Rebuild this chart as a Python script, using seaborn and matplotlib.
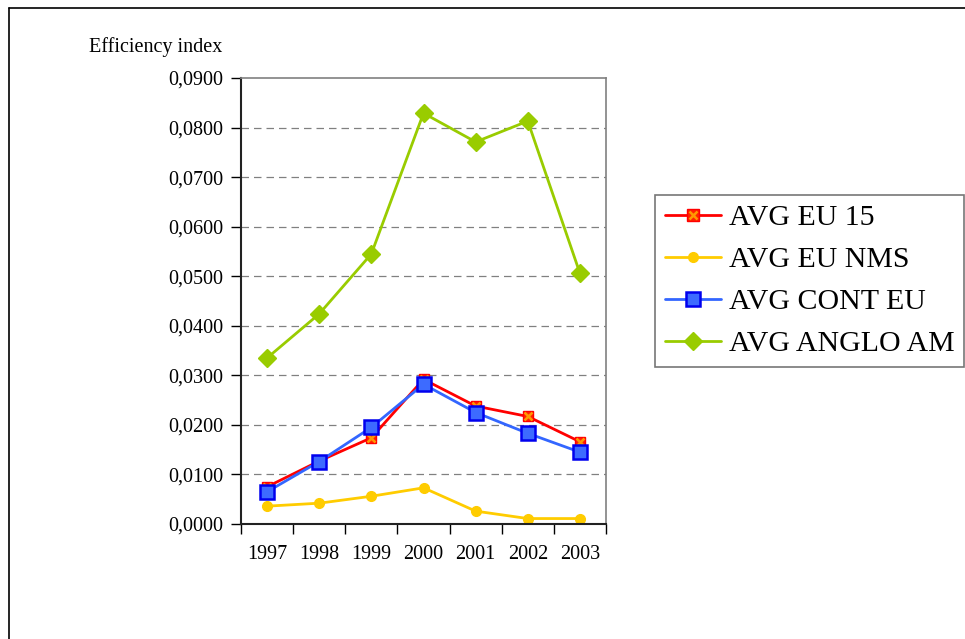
import matplotlib
matplotlib.use("Agg")
import matplotlib.pyplot as plt
from matplotlib.lines import Line2D
from matplotlib.legend_handler import HandlerTuple
import seaborn as sns
import pandas as pd
import numpy as np

years = ["1997", "1998", "1999", "2000", "2001", "2002", "2003"]
eu15 = [0.0075, 0.0127, 0.0174, 0.0292, 0.0238, 0.0217, 0.0166]
eu_nms = [0.0036, 0.0042, 0.0056, 0.0073, 0.0026, 0.0011, 0.0011]
cont_eu = [0.0065, 0.0126, 0.0195, 0.0282, 0.0225, 0.0183, 0.0145]
anglo_am = [0.0335, 0.0424, 0.0545, 0.0829, 0.0771, 0.0813, 0.0506]
series_names = ["AVG EU 15", "AVG EU NMS", "AVG CONT EU", "AVG ANGLO AM"]
yticks = [0.0, 0.01, 0.02, 0.03, 0.04, 0.05, 0.06, 0.07, 0.08, 0.09]

sns.set_theme(style="white")
plt.rcParams["font.family"] = ["Liberation Serif", "DejaVu Serif"]
plt.rcParams["text.color"] = "black"
plt.rcParams["xtick.color"] = "black"
plt.rcParams["ytick.color"] = "black"

rows = []
for name, vals in zip(series_names, [eu15, eu_nms, cont_eu, anglo_am]):
    for i, v in enumerate(vals):
        rows.append({"series": name, "pos": i, "value": v})
df = pd.DataFrame(rows)

fig = plt.figure(figsize=(9.65, 6.39), dpi=100)
ax = fig.add_axes([241/965, 1-524/639, (606-241)/965, (524-78)/639])

styles = {
    "AVG EU 15": dict(color="#FF0000", marker="s", ms=7, mfc="#FF2200", mec="#FF0000", mew=1.0),
    "AVG EU NMS": dict(color="#FFCC00", marker="o", ms=7, mfc="#FFCC00", mec="#FFCC00", mew=1.0),
    "AVG CONT EU": dict(color="#3366FF", marker="s", ms=10, mfc="#3D6BFF", mec="#0000EE", mew=1.8),
    "AVG ANGLO AM": dict(color="#99CC00", marker="D", ms=9, mfc="#99CC00", mec="#99CC00", mew=1.0),
}
handles = []
for name in series_names:
    st = styles[name]
    sub = df[df["series"] == name]
    sns.lineplot(data=sub, x="pos", y="value", ax=ax, color=st["color"], lw=2,
                 marker=st["marker"], markersize=st["ms"], markerfacecolor=st["mfc"],
                 markeredgecolor=st["mec"], markeredgewidth=st["mew"], legend=False)
    if name == "AVG EU 15":
        sns.lineplot(data=sub, x="pos", y="value", ax=ax, lw=0, marker="x",
                     markersize=6, markeredgecolor="#FF9900", markeredgewidth=1.8, legend=False)
        h = (Line2D([], [], color=st["color"], lw=2, marker="s", markersize=8,
                    markerfacecolor=st["mfc"], markeredgecolor=st["mec"]),
             Line2D([], [], lw=0, marker="x", markersize=6, markeredgecolor="#FF9900",
                    markeredgewidth=1.8))
        handles.append(h)
    else:
        handles.append(Line2D([], [], color=st["color"], lw=2, marker=st["marker"],
                              markersize=st["ms"], markerfacecolor=st["mfc"],
                              markeredgecolor=st["mec"], markeredgewidth=st["mew"]))

ax.set_xlim(-0.5, 6.5)
ax.set_ylim(0, 0.09)
ax.set_yticks(yticks)
ax.set_yticklabels([f"{v:.4f}".replace(".", ",") for v in yticks], fontsize=14.5)
ax.set_xticks(np.arange(-0.5, 7, 1))
ax.set_xticklabels([])
ax.set_xticks(np.arange(7), minor=True)
ax.set_xticklabels(years, minor=True, fontsize=14.5)
ax.tick_params(axis="x", which="major", direction="out", length=7, width=1, color="black", bottom=True)
ax.tick_params(axis="x", which="minor", length=0, pad=15)
ax.tick_params(axis="y", direction="out", length=7, width=1, color="black", left=True, pad=6)
ax.set_xlabel("")
ax.set_ylabel("")

for v in yticks[1:-1]:
    ax.axhline(v, color="#808080", lw=0.9, ls=(0, (6, 4)), zorder=0)

for side in ["top", "right"]:
    ax.spines[side].set_color("#808080")
    ax.spines[side].set_linewidth(1.2)
for side in ["left", "bottom"]:
    ax.spines[side].set_color("#222222")
    ax.spines[side].set_linewidth(1.5)

fig.text(222/965, 1-47/639, "Efficiency index", ha="right", va="center", fontsize=14.5)

leg = fig.legend(handles, series_names, loc="upper right", bbox_to_anchor=(964/965, 1-195/639),
                 fontsize=21.5, frameon=True, fancybox=False, handlelength=1.9,
                 handletextpad=0.25, borderpad=0.32, labelspacing=0.5, borderaxespad=0,
                 handler_map={tuple: HandlerTuple(ndivide=1)})
leg.get_frame().set_edgecolor("#555555")
leg.get_frame().set_linewidth(1.2)

fig.add_artist(Line2D([9/965, 9/965], [0, 1-8/639], transform=fig.transFigure, color="black", lw=1.2))
fig.add_artist(Line2D([9/965, 1], [1-8/639, 1-8/639], transform=fig.transFigure, color="black", lw=1.2))

fig.savefig("out.png", dpi=100)
